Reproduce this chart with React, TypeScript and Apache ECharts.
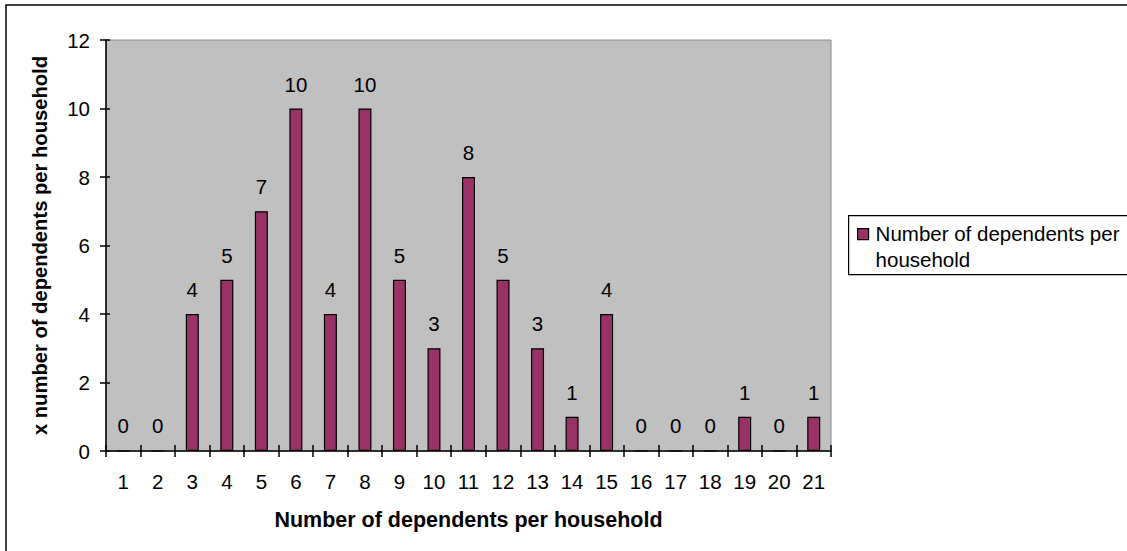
import React, { useEffect, useRef } from "react";
import * as echarts from "echarts";

const categories = ["1","2","3","4","5","6","7","8","9","10","11","12","13","14","15","16","17","18","19","20","21"];
const values = [0, 0, 4, 5, 7, 10, 4, 10, 5, 3, 8, 5, 3, 1, 4, 0, 0, 0, 1, 0, 1];
const seriesName = "Number of dependents per household";
const legendLines = ["Number of dependents per", "household"];
const xTitle = "Number of dependents per household";
const yTitle = "x number of dependents per household";

export default function App() {
  const ref = useRef<HTMLDivElement>(null);
  useEffect(() => {
    if (!ref.current) return;
    const chart = echarts.init(ref.current, null, { renderer: "svg" });
    const font = "Arial, 'Liberation Sans', sans-serif";
    const fs = 20.5;
    const grid = { left: 106, top: 40, right: 296, bottom: 100 };
    chart.setOption({
      animation: false,
      backgroundColor: "#ffffff",
      textStyle: { fontFamily: font },
      grid: [
        { ...grid, show: true, backgroundColor: "#c0c0c0", borderColor: "#8a8a8a", borderWidth: 1 },
        { ...grid },
      ],
      legend: { show: false, data: [seriesName] },
      xAxis: [
        {
          type: "category",
          gridIndex: 0,
          data: categories,
          name: xTitle,
          nameLocation: "middle",
          nameGap: 58,
          nameTextStyle: { fontSize: 21.5, fontWeight: "bold", color: "#000", fontFamily: font },
          axisLine: { lineStyle: { color: "#000", width: 1.5 } },
          axisTick: { show: true, length: 6, lineStyle: { color: "#000", width: 1.5 } },
          axisLabel: { fontSize: fs, color: "#000", margin: 20, interval: 0, fontFamily: font },
          splitLine: { show: false },
        },
        {
          type: "category",
          gridIndex: 1,
          data: categories,
          axisLine: { show: false },
          axisTick: { show: true, inside: true, length: 6, lineStyle: { color: "#000", width: 1.5 } },
          axisLabel: { show: false },
        },
      ],
      yAxis: [
        {
          type: "value",
          gridIndex: 0,
          min: 0,
          max: 12,
          interval: 2,
          name: yTitle,
          nameLocation: "middle",
          nameGap: 56,
          nameRotate: 90,
          nameTextStyle: { fontSize: 20.2, fontWeight: "bold", color: "#000", fontFamily: font },
          axisLine: { show: true, lineStyle: { color: "#000", width: 1.5 } },
          axisTick: { show: true, length: 6, lineStyle: { color: "#000", width: 1.5 } },
          axisLabel: { fontSize: fs, color: "#000", margin: 16, fontFamily: font },
          splitLine: { show: false },
        },
        {
          type: "value",
          gridIndex: 1,
          min: 0,
          max: 12,
          interval: 2,
          axisLine: { show: false },
          axisTick: { show: true, inside: true, length: 4, lineStyle: { color: "#000", width: 1.5 } },
          axisLabel: { show: false },
          splitLine: { show: false },
        },
      ],
      graphic: [
        {
          type: "rect",
          silent: true,
          z: -10,
          shape: { x: 6, y: 5, width: 1300, height: 700 },
          style: { fill: "none", stroke: "#000", lineWidth: 1.5 },
        },
        {
          type: "group",
          left: 848,
          top: 215,
          children: [
            {
              type: "rect",
              shape: { x: 0, y: 0, width: 400, height: 59 },
              style: { fill: "#ffffff", stroke: "#000", lineWidth: 1.2 },
            },
            {
              type: "rect",
              shape: { x: 9, y: 13, width: 11, height: 11 },
              style: { fill: "#993366", stroke: "#000", lineWidth: 1.2 },
            },
            {
              type: "text",
              x: 27,
              y: 18,
              style: { text: legendLines[0], fontSize: fs, fontFamily: font, fill: "#000", verticalAlign: "middle" },
            },
            {
              type: "text",
              x: 27,
              y: 44,
              style: { text: legendLines[1], fontSize: fs, fontFamily: font, fill: "#000", verticalAlign: "middle" },
            },
          ],
        },
      ],
      series: [
        {
          name: seriesName,
          type: "bar",
          xAxisIndex: 0,
          yAxisIndex: 0,
          data: values,
          barWidth: 13,
          itemStyle: { color: "#993366", borderColor: "#000", borderWidth: 1.2 },
          label: {
            show: true,
            position: "top",
            distance: 14,
            fontSize: fs,
            color: "#000",
            fontFamily: font,
          },
        },
      ],
    });
    return () => chart.dispose();
  }, []);
  return (
    <div
      ref={ref}
      style={{ position: "fixed", left: 0, top: 0, width: 1127, height: 551 }}
    />
  );
}
